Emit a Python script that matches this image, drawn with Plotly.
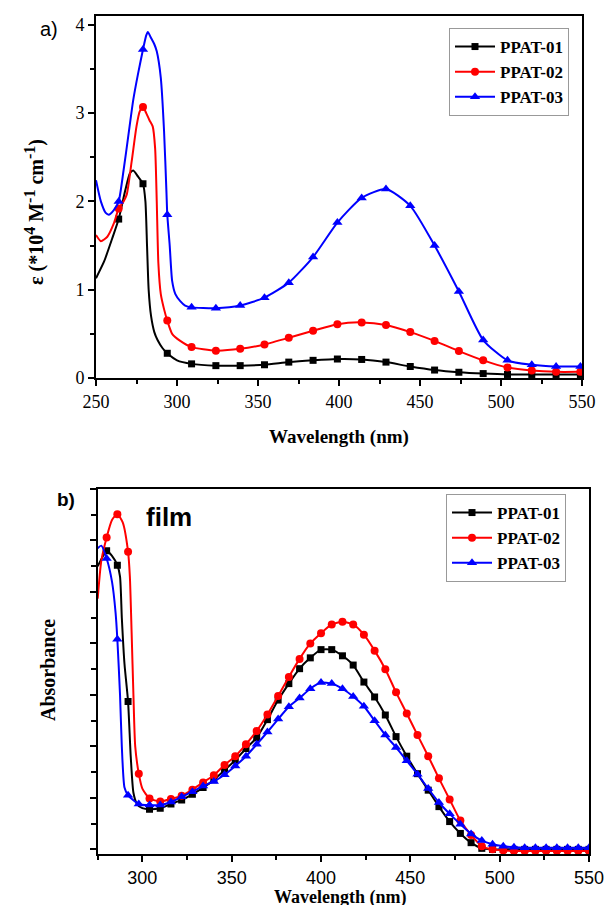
import plotly.graph_objects as go

# ---------------- data: panel a (solution, epsilon *10^4) ----------------
wl_a1 = [250, 255, 260, 264, 268, 271, 273, 276, 279, 280.5, 281.5, 282.5, 284, 286, 288, 291, 294, 300, 309, 324, 339, 354, 369, 384, 399, 414, 429, 444, 459, 474, 489, 504, 519, 534, 549, 550]
ep_a1 = [1.13, 1.32, 1.58, 1.80, 2.12, 2.32, 2.35, 2.28, 2.20, 2.0, 1.5, 1.0, 0.70, 0.52, 0.43, 0.34, 0.28, 0.20, 0.16, 0.14, 0.14, 0.15, 0.18, 0.20, 0.215, 0.21, 0.18, 0.13, 0.09, 0.065, 0.05, 0.04, 0.04, 0.04, 0.04, 0.04]

wl_a2 = [250, 253, 257, 261, 264, 267, 269, 272, 275, 277, 279, 281, 283, 285, 286.5, 287.5, 288.5, 290, 292, 294, 297, 302, 309, 324, 339, 354, 369, 384, 399, 414, 429, 444, 459, 474, 489, 504, 519, 534, 549, 550]
ep_a2 = [1.62, 1.55, 1.60, 1.75, 1.92, 2.0, 2.08, 2.45, 2.85, 3.02, 3.07, 3.0, 2.92, 2.85, 2.6, 2.0, 1.3, 0.95, 0.78, 0.65, 0.50, 0.42, 0.35, 0.31, 0.33, 0.38, 0.455, 0.535, 0.61, 0.63, 0.60, 0.52, 0.42, 0.305, 0.20, 0.12, 0.085, 0.07, 0.07, 0.07]

wl_a3 = [250, 253, 256, 258, 261, 264, 267, 270, 273, 276, 279, 281, 282, 284, 286, 287.5, 290, 292, 293.5, 294, 295.5, 297, 299, 302, 305, 309, 324, 339, 354, 369, 384, 399, 414, 429, 444, 459, 474, 489, 504, 519, 534, 549, 550]
ep_a3 = [2.24, 2.0, 1.87, 1.85, 1.9, 2.0, 2.35, 2.75, 3.15, 3.45, 3.72, 3.88, 3.92, 3.85, 3.78, 3.70, 3.4, 2.8, 2.1, 1.85, 1.5, 1.1, 0.95, 0.87, 0.82, 0.80, 0.79, 0.82, 0.91, 1.08, 1.37, 1.76, 2.04, 2.14, 1.95, 1.50, 0.98, 0.43, 0.20, 0.15, 0.13, 0.13, 0.13]

marks_a = [264, 279, 294, 309, 324, 339, 354, 369, 384, 399, 414, 429, 444, 459, 474, 489, 504, 519, 534, 549]

# ---------------- data: panel b (film absorbance) ----------------
wl_b1 = [275, 278, 280, 283, 286, 287.5, 288.5, 290, 292, 293.5, 295, 297, 300, 304, 310, 316, 322, 328, 334, 340, 346, 352, 358, 364, 370, 376, 382, 388, 394, 400, 406, 412, 418, 424, 430, 436, 442, 448, 454, 460, 466, 472, 478, 484, 490, 496, 502, 508, 514, 520, 526, 532, 538, 544, 550]
ab_b1 = [0.55, 0.57, 0.58, 0.57, 0.552, 0.53, 0.45, 0.36, 0.287, 0.18, 0.11, 0.088, 0.08, 0.078, 0.080, 0.088, 0.096, 0.107, 0.12, 0.135, 0.154, 0.173, 0.196, 0.217, 0.252, 0.29, 0.322, 0.351, 0.372, 0.388, 0.388, 0.376, 0.358, 0.325, 0.296, 0.261, 0.219, 0.181, 0.147, 0.115, 0.083, 0.054, 0.031, 0.013, 0.002, 0.0, 0.0, 0.0, 0.0, 0.0, 0.0, 0.0, 0.0, 0.0, 0.0]

wl_b2 = [275, 277, 280, 283, 286, 289, 292, 293, 294, 295, 296, 298, 300, 304, 310, 316, 322, 328, 334, 340, 346, 352, 358, 364, 370, 376, 382, 388, 394, 400, 406, 412, 418, 424, 430, 436, 442, 448, 454, 460, 466, 472, 478, 484, 490, 496, 502, 508, 514, 520, 526, 532, 538, 544, 550]
ab_b2 = [0.487, 0.56, 0.606, 0.64, 0.651, 0.635, 0.578, 0.53, 0.42, 0.30, 0.20, 0.147, 0.118, 0.099, 0.093, 0.098, 0.104, 0.116, 0.130, 0.144, 0.164, 0.181, 0.204, 0.230, 0.262, 0.298, 0.335, 0.37, 0.40, 0.42, 0.437, 0.442, 0.437, 0.417, 0.386, 0.35, 0.305, 0.264, 0.222, 0.181, 0.138, 0.097, 0.056, 0.028, 0.006, 0.0, -0.002, -0.003, -0.003, -0.003, -0.003, -0.003, -0.003, -0.003, -0.003]

wl_b3 = [275, 277, 280, 283, 285, 286, 287.5, 288.5, 290, 292, 298, 304, 310, 316, 322, 328, 334, 340, 346, 352, 358, 364, 370, 376, 382, 388, 394, 400, 406, 412, 418, 424, 430, 436, 442, 448, 454, 460, 466, 472, 478, 484, 490, 496, 502, 508, 514, 520, 526, 532, 538, 544, 550]
ab_b3 = [0.585, 0.59, 0.565, 0.52, 0.46, 0.408, 0.30, 0.20, 0.12, 0.105, 0.088, 0.086, 0.086, 0.092, 0.102, 0.112, 0.123, 0.132, 0.145, 0.162, 0.181, 0.204, 0.228, 0.253, 0.277, 0.294, 0.312, 0.324, 0.322, 0.312, 0.297, 0.278, 0.250, 0.222, 0.198, 0.172, 0.146, 0.118, 0.091, 0.069, 0.049, 0.030, 0.017, 0.010, 0.006, 0.004, 0.003, 0.003, 0.003, 0.003, 0.003, 0.003, 0.003]

marks_b = [280, 286, 292, 298, 304, 310, 316, 322, 328, 334, 340, 346, 352, 358, 364, 370, 376, 382, 388, 394, 400, 406, 412, 418, 424, 430, 436, 442, 448, 454, 460, 466, 472, 478, 484, 490, 496, 502, 508, 514, 520, 526, 532, 538, 544, 550]

names = ["PPAT-01", "PPAT-02", "PPAT-03"]
colors = ["#000000", "#ff0000", "#0000ff"]
symbols = ["square", "circle", "triangle-up"]
msizes = [7, 8, 9]

W, H = 606, 905
def px(x):
    return x / W
def py(y):
    return (H - y) / H

fig = go.Figure()

def add_series(wl, val, marks, i, xa, ya, legend):
    fig.add_trace(go.Scatter(x=wl, y=val, mode="lines", xaxis=xa, yaxis=ya,
                             line=dict(color=colors[i], width=2, shape="spline", smoothing=0.6),
                             showlegend=False, hoverinfo="skip"))
    mx = [w for w in wl if w in marks]
    my = [v for w, v in zip(wl, val) if w in marks]
    fig.add_trace(go.Scatter(x=mx, y=my, mode="markers", xaxis=xa, yaxis=ya,
                             marker=dict(color=colors[i], symbol=symbols[i], size=msizes[i]),
                             showlegend=False))
    fig.add_trace(go.Scatter(x=[None], y=[None], mode="lines+markers", name=names[i],
                             xaxis=xa, yaxis=ya, legend=legend,
                             line=dict(color=colors[i], width=2),
                             marker=dict(color=colors[i], symbol=symbols[i], size=msizes[i])))

for i, (wl, val) in enumerate([(wl_a1, ep_a1), (wl_a2, ep_a2), (wl_a3, ep_a3)]):
    add_series(wl, val, marks_a, i, "x", "y", "legend")
for i, (wl, val) in enumerate([(wl_b1, ab_b1), (wl_b2, ab_b2), (wl_b3, ab_b3)]):
    add_series(wl, val, marks_b, i, "x2", "y2", "legend2")

serif = "Liberation Serif"
sans = "Liberation Sans"

axis_common = dict(showline=True, linecolor="black", linewidth=2, mirror=True, automargin=False,
                   ticks="outside", tickcolor="black", tickwidth=1.5, ticklen=6,
                   showgrid=False, zeroline=False)

fig.update_layout(
    template="none",
    width=W, height=H, margin=dict(l=0, r=0, t=0, b=0, pad=0, autoexpand=False),
    paper_bgcolor="white", plot_bgcolor="white",
    xaxis=dict(domain=[px(96), px(582)], anchor="y", range=[250, 550], dtick=50, tick0=250,
               minor=dict(dtick=25, ticks="outside", ticklen=4, tickcolor="black", tickwidth=1.5),
               tickfont=dict(family=serif, size=18, color="black"), **axis_common),
    yaxis=dict(domain=[py(378), py(16)], anchor="x", range=[0, 4.1], dtick=1, tick0=0,
               minor=dict(dtick=0.5, ticks="outside", ticklen=4, tickcolor="black", tickwidth=1.5),
               tickfont=dict(family=serif, size=18, color="black"), **axis_common),
    xaxis2=dict(domain=[px(97.7), px(589)], anchor="y2", range=[275, 550], dtick=50, tick0=300,
                minor=dict(dtick=25, ticks="outside", ticklen=4, tickcolor="black", tickwidth=1.5),
                tickfont=dict(family=sans, size=18, color="black"), **axis_common),
    yaxis2=dict(domain=[py(854), py(489)], anchor="x2", range=[-0.009, 0.70], dtick=0.1, tick0=0,
                showticklabels=False,
                minor=dict(dtick=0.05, ticks="outside", ticklen=5, tickcolor="black", tickwidth=1.5),
                **axis_common),
    legend=dict(x=px(449), y=py(28), xanchor="left", yanchor="top",
                bgcolor="white", bordercolor="#999999", borderwidth=1, itemwidth=40,
                font=dict(family=serif, size=17, color="black", weight="bold"), tracegroupgap=0),
    legend2=dict(x=px(446), y=py(494), xanchor="left", yanchor="top",
                 bgcolor="white", bordercolor="#999999", borderwidth=1, itemwidth=40,
                 font=dict(family=serif, size=17, color="black", weight="bold"), tracegroupgap=0),
)

sup = "<sup><span style='font-size:16px'>{}</span></sup>"
ytitle = "<b>ε (*10" + sup.format("4") + " M" + sup.format("-1") + " cm" + sup.format("-1") + ")</b>"

ann = [
    dict(text="a)", x=px(49), y=py(29), font=dict(family=sans, size=20, color="black")),
    dict(text="<b>b)</b>", x=px(66), y=py(499), font=dict(family=sans, size=19, color="black")),
    dict(text="<b>film</b>", x=px(169), y=py(517), font=dict(family=sans, size=26, color="black")),
    dict(text="<b>Wavelength (nm)</b>", x=px(339), y=py(437), font=dict(family=serif, size=19, color="black")),
    dict(text="<b>Wavelength (nm)</b>", x=px(340), y=py(897), font=dict(family=serif, size=18, color="black")),
    dict(text=ytitle, x=px(34), y=py(212), textangle=-90,
         font=dict(family=serif, size=20, color="black")),
    dict(text="<b>Absorbance</b>", x=px(48), y=py(670), textangle=-90,
         font=dict(family=serif, size=20, color="black")),
]
for a in ann:
    fig.add_annotation(xref="paper", yref="paper", showarrow=False, xanchor="center", yanchor="middle", **a)

fig.write_html("out.html", config={"displayModeBar": False},
               post_script="document.body.style.margin='0';document.body.style.overflow='hidden';")
